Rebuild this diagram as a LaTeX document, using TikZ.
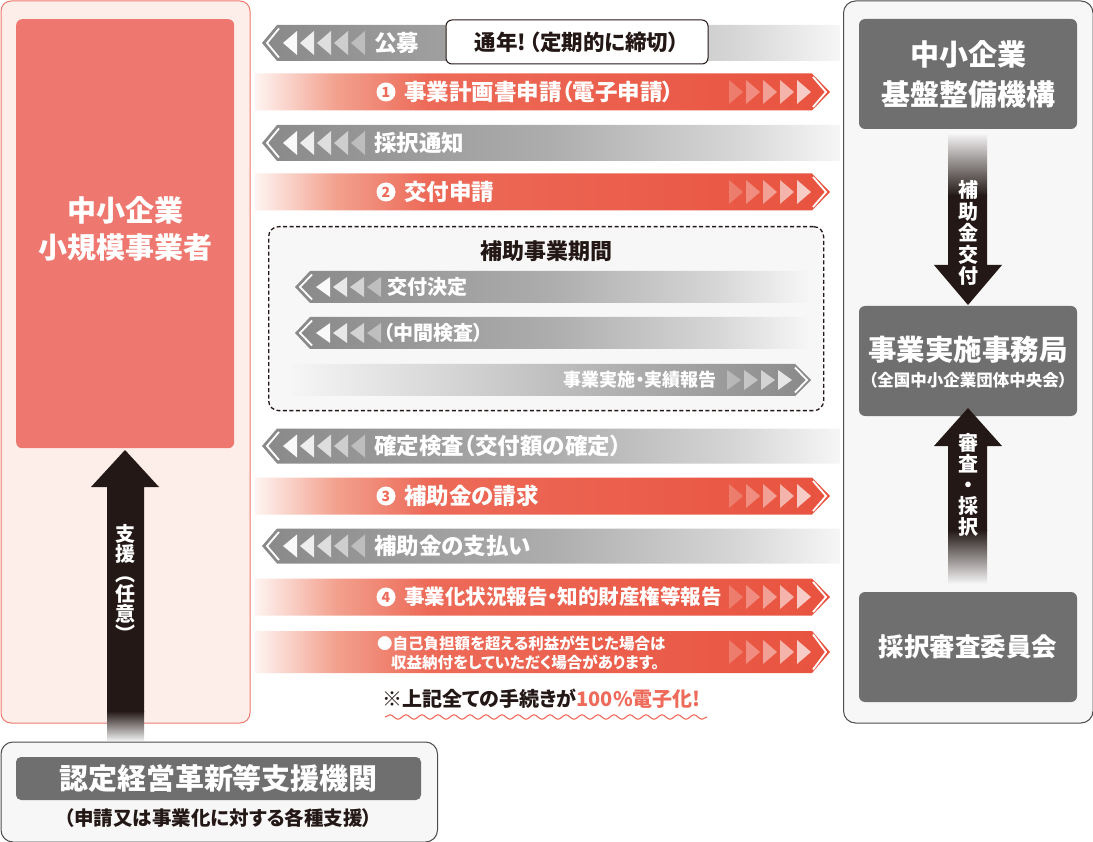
\documentclass[tikz,border=0pt]{standalone}
\usepackage{fontspec}
\setmainfont{Noto Sans CJK JP}[RawFeature=+palt]
\usetikzlibrary{decorations.pathmorphing}
\definecolor{pinkbg}{HTML}{FDEEEA}
\definecolor{pinkline}{HTML}{EE7A6E}
\definecolor{redbox}{HTML}{EE7870}
\definecolor{inkdark}{HTML}{231815}
\definecolor{graybox}{HTML}{6F6F6F}
\definecolor{panelbg}{HTML}{F7F7F7}
\definecolor{panelline}{HTML}{4D4D4D}
\definecolor{salmon}{HTML}{EE6A5A}
\definecolor{rw}{HTML}{FEF4F1}
\definecolor{ra}{HTML}{F3A18F}
\definecolor{rb}{HTML}{ED6A58}
\definecolor{rc}{HTML}{E8533F}
\definecolor{ga}{HTML}{898989}
\definecolor{gb}{HTML}{ADADAD}
\definecolor{gc}{HTML}{D6D6D6}
\definecolor{gd}{HTML}{F6F6F6}
\pgfdeclarehorizontalshading{redbar}{100bp}{color(0bp)=(rw); color(25bp)=(rw); color(32bp)=(ra); color(40bp)=(rb); color(75bp)=(rc); color(100bp)=(rc)}
\pgfdeclarehorizontalshading{graybar}{100bp}{color(0bp)=(ga); color(25bp)=(ga); color(50bp)=(gb); color(66bp)=(gc); color(75bp)=(gd); color(100bp)=(gd)}
\pgfdeclarehorizontalshading{graybarR}{100bp}{color(0bp)=(gd); color(25bp)=(gd); color(40bp)=(gc); color(58bp)=(gb); color(75bp)=(ga); color(100bp)=(ga)}
% gray arrow pointing left: tip x, cy, half height, right x, opacity list
\newcommand{\GrayRowL}[5]{%
  \shade[shading=graybar] (#1,#2) -- (#1+15,#2-#3) -- (#4,#2-#3) -- (#4,#2+#3) -- (#1+15,#2+#3) -- cycle;
  \draw[white, line width=1.8pt] (#1+17,#2-#3+3.5) -- (#1+5,#2) -- (#1+17,#2+#3-3.5);
  \foreach \o [count=\i from 0] in {#5} {\fill[white, opacity=\o] (#1+21+17*\i,#2) -- (#1+35+17*\i,#2-#3+6) -- (#1+35+17*\i,#2+#3-6) -- cycle;}
}
% red arrow pointing right: cy, half height, triangle half height
\newcommand{\RedRowR}[3]{%
  \shade[shading=redbar] (255,#1-#2) -- (812,#1-#2) -- (830,#1) -- (812,#1+#2) -- (255,#1+#2) -- cycle;
  \foreach \o [count=\i from 0] in {0.22,0.32,0.44,0.56,0.7} {\fill[white, opacity=\o] (729+17*\i,#1-#3) -- (743+17*\i,#1) -- (729+17*\i,#1+#3) -- cycle;}
  \draw[white, line width=1.8pt] (813,#1-#2+3.5) -- (826,#1) -- (813,#1+#2-3.5);
}
\tikzset{
  box/.style={inner sep=0pt, rounded corners=6pt, fill=graybox, text=white, align=center},
  wtxt/.style={text=white, font=\bfseries\fontsize{22.5}{26}\selectfont, inner sep=0pt, anchor=west},
  vtxt/.style={text=white, align=center, inner sep=0pt},
  numc/.style={circle, fill=white, minimum size=19pt, inner sep=0pt, text=salmon, font=\bfseries\fontsize{14}{14}\selectfont},
  darkarrow/.style={fill=inkdark}
}
\begin{document}
\begin{tikzpicture}[x=1pt,y=-1pt]
\useasboundingbox (0,0) rectangle (1093,842);
% ---------- left panel ----------
\node[draw=pinkline, fill=pinkbg, line width=1pt, rounded corners=10pt, minimum width=249pt, minimum height=722pt, inner sep=0pt, anchor=north west] (leftpanel) at (0.5,0.5) {};
\node[fill=redbox, rounded corners=6pt, minimum width=218pt, minimum height=429pt, inner sep=0pt, anchor=north west] (smebox) at (16,19) {};
\node[text=white, font=\bfseries\fontsize{29}{37}\selectfont, align=center, inner sep=0pt] (smetext) at (125,229) {中小企業\\小規模事業者};
% ---------- right panel ----------
\node[draw=panelline, fill=panelbg, line width=1pt, rounded corners=12pt, minimum width=249.5pt, minimum height=722pt, inner sep=0pt, anchor=north west] (rightpanel) at (843,0.5) {};
\node[box, minimum width=218pt, minimum height=110pt, font=\bfseries\fontsize{29}{40}\selectfont] (kiban) at (968,74) {中小企業\\基盤整備機構};
\node[box, minimum width=218pt, minimum height=110pt] (jimu) at (968,361) {};
\node[text=white, font=\bfseries\fontsize{28.5}{30}\selectfont, inner sep=0pt] (jimutext) at (968,350) {事業実施事務局};
\node[text=white, font=\bfseries\fontsize{16.5}{18}\selectfont, inner sep=0pt] (jimusub) at (968,380) {（全国中小企業団体中央会）};
\node[box, minimum width=218pt, minimum height=110pt, font=\bfseries\fontsize{25.5}{28}\selectfont] (shinsa) at (968,647) {採択審査委員会};
% arrows in right panel
\shade[top color=panelbg, bottom color=inkdark] (948,133) rectangle (987,196);
\fill[darkarrow] (948,195) -- (987,195) -- (987,265) -- (1002,265) -- (968,305) -- (934,265) -- (948,265) -- cycle;
\node[vtxt, font=\bfseries\fontsize{20}{21.5}\selectfont] (kofu) at (968,233) {補\\助\\金\\交\\付};
\fill[darkarrow] (968,408) -- (1002,446) -- (987,446) -- (987,531) -- (948,531) -- (948,446) -- (934,446) -- cycle;
\shade[top color=inkdark, bottom color=panelbg] (948,530) rectangle (987,584);
\node[vtxt, font=\bfseries\fontsize{20}{21}\selectfont] (saitaku) at (968,485) {審\\査\\・\\採\\択};
% ---------- bottom panel ----------
\node[draw=panelline, fill=panelbg, line width=1pt, rounded corners=12pt, minimum width=436.5pt, minimum height=100pt, inner sep=0pt, anchor=north west] (bottompanel) at (0.5,741.5) {};
\node[box, rounded corners=5pt, minimum width=405pt, minimum height=43pt, font=\bfseries\fontsize{29}{30}\selectfont] (nintei) at (218.5,778.5) {認定経営革新等支援機関};
\node[text=inkdark, font=\bfseries\fontsize{19.5}{21}\selectfont, inner sep=0pt] (ninteisub) at (218.5,818) {（申請又は事業化に対する各種支援）};
% left support arrow
\fill[darkarrow] (125,450) -- (159,487) -- (144,487) -- (144,712) -- (107,712) -- (107,487) -- (91,487) -- cycle;
\shade[top color=inkdark, bottom color=gray!15] (107,711) rectangle (144,740);
\node[vtxt, font=\bfseries\fontsize{20}{20}\selectfont] (shien) at (125,583) {支\\援\\︵\\任\\意\\︶};
% ---------- flow rows ----------
\GrayRowL{262}{43}{18}{840}{0.95,0.85,0.7,0.55,0.38}
\node[wtxt] (koubo) at (374,43) {公募};
\node[draw=inkdark, fill=white, line width=1pt, rounded corners=6pt, minimum width=262pt, minimum height=44pt, inner sep=0pt, text=inkdark, font=\bfseries\fontsize{21.5}{23}\selectfont] (tsunen) at (577,42) {通年!\kern3pt（定期的に締切）};
\RedRowR{92}{18.5}{12}
\node[numc] (n1) at (386,92) {1};
\node[wtxt] (r1) at (404,92) {事業計画書申請（電子申請）};
\GrayRowL{262}{143}{18}{840}{0.95,0.85,0.7,0.55,0.38}
\node[wtxt] (tsuchi) at (374,143) {採択通知};
\RedRowR{192}{18.5}{12}
\node[numc] (n2) at (386,192) {2};
\node[wtxt] (r2) at (404,192) {交付申請};
% subsidy period box
\node[draw=inkdark, fill=panelbg, dash pattern=on 4pt off 2.5pt, line width=1.3pt, rounded corners=10pt, minimum width=555pt, minimum height=184pt, inner sep=0pt, anchor=north west] (period) at (268,226) {};
\node[text=inkdark, font=\bfseries\fontsize{22}{24}\selectfont, inner sep=0pt] (periodtitle) at (546,251) {補助事業期間};
\GrayRowL{295}{287}{16}{808}{0.95,0.8,0.6,0.4}
\node[wtxt, font=\bfseries\fontsize{20}{22}\selectfont] (kettei) at (387,287) {交付決定};
\GrayRowL{295}{333}{16}{808}{0.95,0.8,0.6,0.4}
\node[wtxt, font=\bfseries\fontsize{20}{22}\selectfont] (chukan) at (383,333) {（中間検査）};
\shade[shading=graybarR] (290,364) -- (795,364) -- (811,380) -- (795,396) -- (290,396) -- cycle;
\foreach \o [count=\i from 0] in {0.3,0.45,0.6,0.78} {\fill[white, opacity=\o] (727+17*\i,370) -- (741+17*\i,380) -- (727+17*\i,390) -- cycle;}
\draw[white, line width=1.8pt] (795,367.5) -- (807,380) -- (795,392.5);
\node[wtxt, anchor=east, font=\bfseries\fontsize{18}{20}\selectfont] (jisshi) at (717,380) {事業実施・実績報告};
% after period
\GrayRowL{262}{446}{17.5}{840}{0.95,0.85,0.7,0.55,0.38}
\node[wtxt] (kakutei) at (374,446) {確定検査（交付額の確定）};
\RedRowR{496}{18.5}{12}
\node[numc] (n3) at (386,496) {3};
\node[wtxt] (r3) at (404,496) {補助金の請求};
\GrayRowL{262}{546}{17.5}{840}{0.95,0.85,0.7,0.55,0.38}
\node[wtxt] (shiharai) at (374,546) {補助金の支払い};
\RedRowR{597}{18.5}{12}
\node[numc] (n4) at (386,597) {4};
\node[wtxt, font=\bfseries\fontsize{20.5}{22}\selectfont] (r4) at (404,597) {事業化状況報告・知的財産権等報告};
\RedRowR{652}{21}{12}
\node[wtxt, font=\bfseries\fontsize{15.5}{17}\selectfont] (note1) at (377,643) {●自己負担額を超える利益が生じた場合は};
\node[wtxt, font=\bfseries\fontsize{15.5}{17}\selectfont] (note2) at (391,662) {収益納付をしていただく場合があります。};
% digital note
\node[anchor=west, inner sep=0pt, text=inkdark, font=\bfseries\fontsize{20}{22}\selectfont] (allnote) at (382,699) {※上記全ての手続きが\textcolor{salmon}{100\%電子化!}};
\draw[salmon, line width=1.1pt, decorate, decoration={snake, segment length=16pt, amplitude=2.2pt}] (385,717) -- (707,717);
\end{tikzpicture}
\end{document}
